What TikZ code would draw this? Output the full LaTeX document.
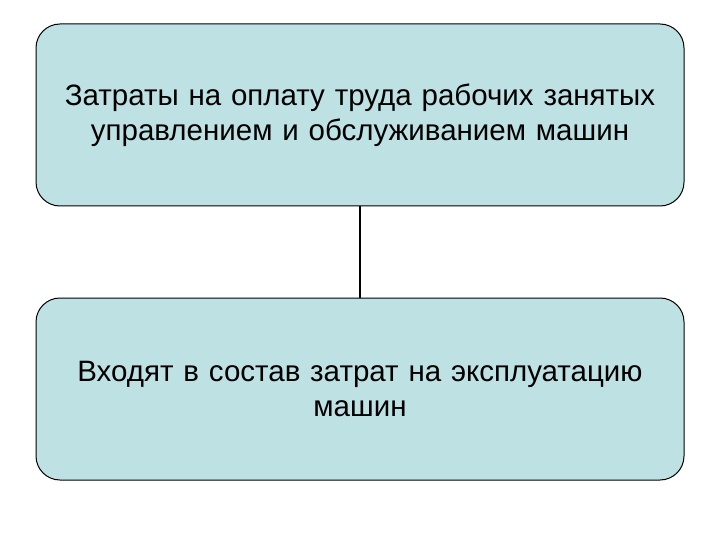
\documentclass[tikz,border=0pt]{standalone}
\usepackage{fontspec}
\setmainfont{Liberation Sans}
\usepackage{tikz}
\definecolor{boxfill}{RGB}{190,226,228}
\tikzset{costbox/.style={rectangle, draw, line width=1pt, fill=boxfill, rounded corners=24pt, minimum width=648pt, minimum height=182pt, text width=640pt, align=center, font=\fontsize{29.5}{35}\selectfont}}
\newcommand{\costbox}[3] {\node at (#1) (#2) [costbox] {#3};}
\newcommand{\costlink}[2] {\draw [line width=2.5pt] (#1) -- (#2);}

\begin{document}
\begin{tikzpicture}[x=1pt, y=-1pt]
\useasboundingbox (0,0) rectangle (720,540);

\costbox {360,115}{labour}{Затраты на оплату труда рабочих занятых\\управлением и обслуживанием машин}
\costbox {360,389}{operation}{Входят в состав затрат на эксплуатацию\\машин}

\costlink {labour.south}{operation.north}

\end{tikzpicture}
\end{document}
